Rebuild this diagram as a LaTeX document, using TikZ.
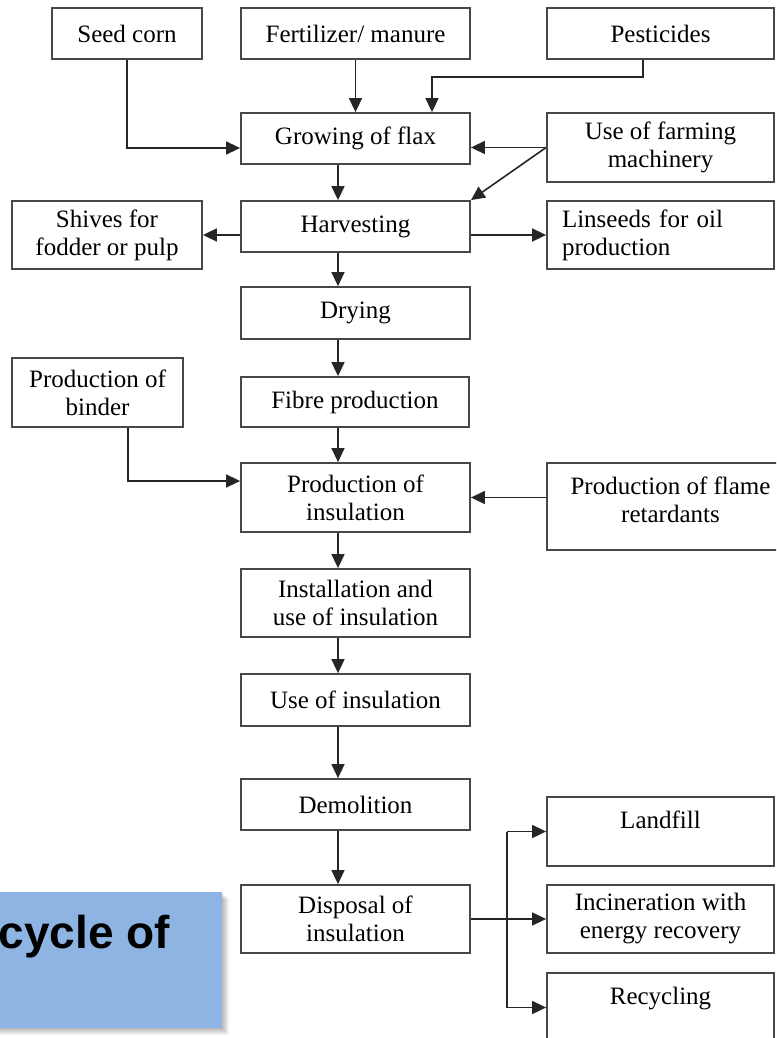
\documentclass[tikz,border=0pt]{standalone}
\usepackage{fontspec}
\setmainfont{Liberation Serif}
\newfontfamily\headfont{Liberation Sans}
\usetikzlibrary{arrows.meta,calc}
\begin{document}
\begin{tikzpicture}[x=1pt,y=-1pt,
  stage/.style={draw=black!72, line width=1.8pt, fill=white, inner sep=4pt,
    align=center, font=\fontsize{25}{28}\selectfont},
  flow/.style={draw=black!85, line width=1.6pt, -{Triangle[length=14pt,width=13pt]}},
  link/.style={draw=black!85, line width=1.6pt},
]
\useasboundingbox (0,0) rectangle (776,1038);
\clip (0,0) rectangle (776,1038);

% inputs to cultivation
\node[stage, minimum width=150pt, minimum height=51pt] (seed) at (127,33.5) {Seed corn};
\node[stage, minimum width=229pt, minimum height=51pt] (fert) at (355.5,33.5) {Fertilizer/ manure};
\node[stage, minimum width=227pt, minimum height=51pt] (pest) at (660.5,33.5) {Pesticides};

% main chain
\node[stage, minimum width=229pt, minimum height=51pt] (grow) at (355.5,138.5) {Growing of flax};
\node[stage, minimum width=227pt, minimum height=69pt] (farm) at (660.5,147.5) {Use of farming\\machinery};
\node[stage, minimum width=190pt, minimum height=68pt] (shiv) at (107,235) {Shives for\\fodder or pulp};
\node[stage, minimum width=229pt, minimum height=51pt] (harv) at (355.5,226.5) {Harvesting};
\node[stage, minimum width=227pt, minimum height=68pt, align=left, text width=197pt, inner xsep=15pt] (lins) at (660.5,235) {Linseeds for oil\\production};
\node[stage, minimum width=229pt, minimum height=52pt] (dry) at (355.5,313) {Drying};
\node[stage, minimum width=171pt, minimum height=69pt] (bind) at (97.5,392.5) {Production of\\binder};
\node[stage, minimum width=228pt, minimum height=50pt] (fib) at (355,402) {Fibre production};
\node[stage, minimum width=229pt, minimum height=69pt] (pins) at (355.5,497.5) {Production of\\insulation};
\node[stage, minimum width=247pt, minimum height=87pt] (flame) at (670.5,506.5) {Production of flame\\retardants\\[-14pt]\mbox{}};
\node[stage, minimum width=229pt, minimum height=68pt] (inst) at (355.5,603) {Installation and\\use of insulation};
\node[stage, minimum width=229pt, minimum height=52pt] (use) at (355.5,700) {Use of insulation};
\node[stage, minimum width=229pt, minimum height=51pt] (demo) at (355.5,804.5) {Demolition};
\node[stage, minimum width=229pt, minimum height=68pt] (disp) at (355.5,919) {Disposal of\\insulation};

% end-of-life routes
\node[stage, minimum width=227pt, minimum height=69pt] (land) at (660.5,831.5) {Landfill\\[-5pt]\mbox{}};
\node[stage, minimum width=227pt, minimum height=68pt] (inc) at (660.5,919) {Incineration with\\energy recovery};
\node[stage, minimum width=227pt, minimum height=69pt] (rec) at (660.5,1007.5) {Recycling\\[-5pt]\mbox{}};

% helper points for bends
\coordinate (spine) at (338,0);
\coordinate (seedin) at (0,148);
\coordinate (pk) at (643,77);
\coordinate (pg) at (432,77);
\coordinate (bk) at (128,481);
\coordinate (branch) at (507,919);

% connectors into cultivation
\draw[flow] (seed.south) |- (grow.west |- seedin);
\draw[flow] (fert.south) -- (grow.north);
\draw[flow] (pest.south -| pk) -- (pk) -- (pg) -- (grow.north -| pg);
\draw[flow] (farm.west) -- (farm.west -| grow.east);
\draw[flow] (farm.west) -- (harv.north east);

% main vertical chain
\draw[flow] (grow.south -| spine) -- (harv.north -| spine);
\draw[flow] (harv.south -| spine) -- (dry.north -| spine);
\draw[flow] (dry.south -| spine) -- (fib.north -| spine);
\draw[flow] (fib.south -| spine) -- (pins.north -| spine);
\draw[flow] (pins.south -| spine) -- (inst.north -| spine);
\draw[flow] (inst.south -| spine) -- (use.north -| spine);
\draw[flow] (use.south -| spine) -- (demo.north -| spine);
\draw[flow] (demo.south -| spine) -- (disp.north -| spine);

% side products and inputs
\draw[flow] (harv.west |- shiv.east) -- (shiv.east);
\draw[flow] (harv.east |- lins.west) -- (lins.west);
\draw[flow] (bind.south -| bk) |- (pins.west |- bk);
\draw[flow] (pins.east -| flame.west) -- (pins.east);

% disposal branches
\draw[link] (disp.east) -- (branch);
\draw[link] (branch |- land.west) -- (branch |- rec.west);
\draw[flow] (branch) -- (inc.west);
\draw[flow] (branch |- land.west) -- (land.west);
\draw[flow] (branch |- rec.west) -- (rec.west);

% title banner with soft shadow
\foreach \s in {1,...,7}
  \fill[black, opacity=0.045] (0,892+\s) rectangle (222+\s,1028+\s);
\fill[fill={rgb,255:red,142;green,180;blue,227}] (0,892) rectangle (222,1028);
\node[anchor=base east, inner sep=0pt, font=\headfont\bfseries\fontsize{46}{50}\selectfont] (bannertext) at (170,948) {cycle of};
\end{tikzpicture}
\end{document}
